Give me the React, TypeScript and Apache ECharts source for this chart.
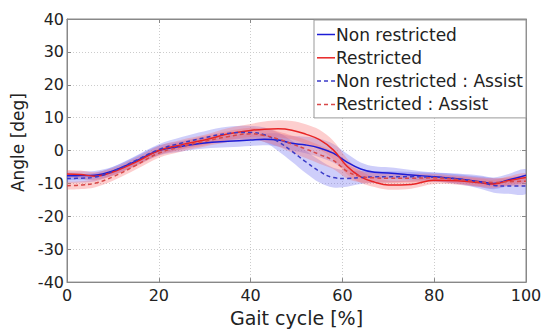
import React, { useEffect, useRef } from "react";
import * as echarts from "echarts";

const gaitX = [0, 3, 6, 10, 15, 20, 25, 30, 35, 40, 43, 46, 49, 52, 55, 58, 61, 64, 67, 70, 75, 80, 85, 90, 93, 96, 100];

const nonRestricted = [-7.7, -7.6, -7.5, -6.2, -3.2, 0, 1.3, 2.3, 2.8, 3.2, 3.4, 3.2, 2.2, 1.7, 0.8, -0.8, -3.5, -5.6, -6.6, -6.8, -7.4, -8.0, -8.6, -9.5, -10.0, -9.0, -7.5];
const nonRestrictedSD = [1.3, 1.3, 1.3, 1.3, 1.4, 1.5, 1.6, 1.7, 1.8, 1.8, 1.8, 2.0, 2.2, 2.5, 2.8, 2.8, 2.5, 2.0, 1.8, 1.7, 1.5, 1.3, 1.4, 1.6, 1.8, 1.8, 1.8];

const restricted = [-7.1, -7.3, -7.8, -6.5, -3.5, 0, 1.8, 3.2, 5.0, 6.1, 6.5, 6.6, 6.2, 5.0, 3.3, 0.2, -4.8, -8.0, -9.6, -10.5, -10.3, -9.0, -9.2, -9.8, -10.2, -9.2, -8.2];
const restrictedSD = [1.2, 1.2, 1.2, 1.2, 1.3, 1.4, 1.5, 1.6, 1.8, 2.0, 2.3, 2.6, 2.8, 3.0, 3.0, 2.8, 2.4, 1.8, 1.5, 1.4, 1.3, 1.2, 1.2, 1.3, 1.3, 1.3, 1.3];

const nonRestrictedAssist = [-8.5, -8.4, -8.1, -6.3, -3.0, 0.3, 2.3, 3.9, 5.2, 5.5, 4.8, 2.7, -0.2, -3.4, -6.3, -8.2, -8.5, -8.2, -8.0, -8.0, -8.0, -8.1, -8.6, -9.6, -10.6, -10.8, -10.8];
const nonRestrictedAssistSD = [1.3, 1.3, 1.3, 1.3, 1.4, 1.6, 1.8, 2.0, 2.0, 2.0, 2.2, 2.8, 3.2, 3.4, 3.4, 3.0, 2.5, 2.0, 1.8, 1.7, 1.5, 1.4, 1.6, 2.0, 2.2, 2.3, 2.3];

const restrictedAssist = [-10.7, -10.5, -10.0, -8.0, -4.5, -0.8, 1.2, 2.8, 4.2, 5.1, 4.6, 3.5, 2.0, 0.5, -1.2, -3.0, -6.3, -7.9, -8.3, -8.4, -8.4, -8.3, -8.8, -9.5, -9.7, -9.5, -9.3];
const restrictedAssistSD = [1.2, 1.2, 1.2, 1.2, 1.3, 1.4, 1.5, 1.6, 1.7, 1.8, 2.0, 2.3, 2.6, 2.8, 2.8, 2.6, 2.2, 1.8, 1.5, 1.4, 1.3, 1.2, 1.2, 1.3, 1.3, 1.3, 1.3];

const seriesNames = ["Non restricted", "Restricted", "Non restricted : Assist", "Restricted : Assist"];
const xTicks = [0, 20, 40, 60, 80, 100];
const yTicks = [-40, -30, -20, -10, 0, 10, 20, 30, 40];

const FONT = "DejaVu Sans";
const BLUE_BAND = "rgba(105,105,240,0.33)";
const RED_BAND = "rgba(250,105,105,0.33)";

const SOLID_ICON = "path://M0,0h18v1.5h-18z";
const DASH_ICON = "path://M0,0h4v1.5h-4z M7,0h4v1.5h-4z M14,0h4v1.5h-4z";

function bandSeries(id: string, mean: number[], sd: number[], color: string) {
  return {
    type: "custom",
    name: id + "_band",
    silent: true,
    clip: true,
    z: 1,
    data: [[gaitX[0], mean[0]]],
    renderItem: (_params: any, api: any) => {
      const upper = gaitX.map((x, i) => api.coord([x, mean[i] + sd[i]]));
      const lower = gaitX.map((x, i) => api.coord([x, mean[i] - sd[i]])).reverse();
      return {
        type: "group",
        children: [
          {
            type: "polyline",
            shape: { points: upper.concat(lower), smooth: 0.35 },
            style: { fill: color, stroke: "none" },
          },
        ],
      };
    },
  };
}

function lineSeries(name: string, mean: number[], color: string, dashed: boolean) {
  return {
    type: "line",
    name,
    data: gaitX.map((x, i) => [x, mean[i]]),
    smooth: 0.4,
    symbol: "none",
    showSymbol: false,
    lineStyle: { color, width: 1.5, type: dashed ? [4, 3] : "solid" },
    itemStyle: { color },
    z: 5,
  };
}

export default function App() {
  const ref = useRef<HTMLDivElement>(null);
  useEffect(() => {
    if (!ref.current) return;
    const chart = echarts.init(ref.current, null, { renderer: "svg" });
    const labelStyle = { fontSize: 16, color: "#222", fontFamily: FONT };
    const frameLine = { show: true, onZero: false, lineStyle: { color: "#888" } };
    chart.setOption({
      animation: false,
      backgroundColor: "#fff",
      grid: {
        left: 67,
        right: 24,
        top: 19,
        bottom: 44,
        show: true,
        borderColor: "#888",
        borderWidth: 1,
        backgroundColor: "transparent",
      },
      legend: {
        orient: "vertical",
        right: 24,
        top: 20,
        backgroundColor: "#fff",
        borderColor: "#999",
        borderWidth: 1,
        padding: [5, 3, 4, 3],
        itemGap: 4.3,
        itemWidth: 18,
        itemHeight: 10,
        textStyle: { fontSize: 17, color: "#222", fontFamily: FONT, lineHeight: 19, padding: [0, 0, 0, -4] },
        data: seriesNames.map((name, i) => ({ name, icon: i < 2 ? SOLID_ICON : DASH_ICON })),
      },
      xAxis: [
        {
          type: "value",
          min: xTicks[0],
          max: xTicks[xTicks.length - 1],
          interval: 20,
          name: "Gait cycle [%]",
          nameLocation: "middle",
          nameGap: 23,
          nameTextStyle: { fontSize: 19, color: "#222", fontFamily: FONT, verticalAlign: "top" },
          axisLine: frameLine,
          axisTick: { show: true, inside: true, length: 4, lineStyle: { color: "#888" } },
          axisLabel: { ...labelStyle, margin: 5 },
          splitLine: { show: true, lineStyle: { color: "#ccc", type: [1, 2] } },
        },
        {
          type: "value",
          position: "top",
          min: xTicks[0],
          max: xTicks[xTicks.length - 1],
          interval: 20,
          axisLine: frameLine,
          axisTick: { show: true, inside: true, length: 4, lineStyle: { color: "#888" } },
          axisLabel: { show: false },
          splitLine: { show: false },
        },
      ],
      yAxis: [
        {
          type: "value",
          min: yTicks[0],
          max: yTicks[yTicks.length - 1],
          interval: 10,
          name: "Angle [deg]",
          nameLocation: "middle",
          nameGap: 33,
          nameRotate: 90,
          nameTextStyle: { fontSize: 17, color: "#222", fontFamily: FONT, padding: [0, 0, 0, 16] },
          axisLine: frameLine,
          axisTick: { show: true, inside: true, length: 4, lineStyle: { color: "#888" } },
          axisLabel: { ...labelStyle, margin: 3 },
          splitLine: { show: true, lineStyle: { color: "#ccc", type: [1, 2] } },
        },
        {
          type: "value",
          position: "right",
          min: yTicks[0],
          max: yTicks[yTicks.length - 1],
          interval: 10,
          axisLine: frameLine,
          axisTick: { show: true, inside: true, length: 4, lineStyle: { color: "#888" } },
          axisLabel: { show: false },
          splitLine: { show: false },
        },
      ],
      series: [
        bandSeries("nr", nonRestricted, nonRestrictedSD, BLUE_BAND),
        bandSeries("nra", nonRestrictedAssist, nonRestrictedAssistSD, BLUE_BAND),
        bandSeries("r", restricted, restrictedSD, RED_BAND),
        bandSeries("ra", restrictedAssist, restrictedAssistSD, RED_BAND),
        lineSeries(seriesNames[0], nonRestricted, "#1c1cd6", false),
        lineSeries(seriesNames[1], restricted, "#e82424", false),
        lineSeries(seriesNames[2], nonRestrictedAssist, "#3a3ac8", true),
        lineSeries(seriesNames[3], restrictedAssist, "#d84848", true),
      ],
    });
    return () => chart.dispose();
  }, []);
  return <div ref={ref} style={{ position: "fixed", left: 0, top: 0, width: 550, height: 332 }} />;
}
